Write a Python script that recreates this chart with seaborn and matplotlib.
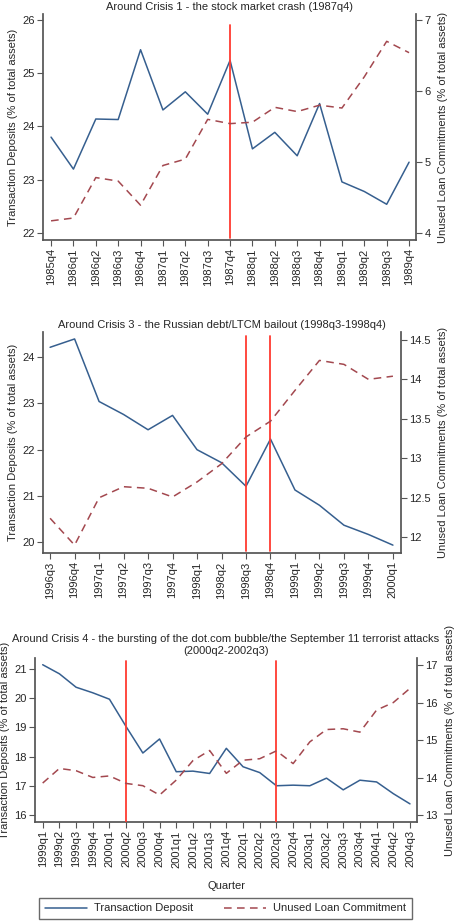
import matplotlib
matplotlib.use('Agg')
import matplotlib.pyplot as plt
from matplotlib.ticker import FormatStrFormatter
from matplotlib.lines import Line2D
import seaborn as sns
import pandas as pd

sns.set_theme(style='ticks')
plt.rcParams['font.family'] = ['Liberation Sans', 'DejaVu Sans']

BLUE = '#365f8f'
MAROON = '#a3484f'
RED = '#ff3a30'
AXC = '#555555'
FS = 8

# Crisis 1 - 1987q4
quarters1 = ['1985q4', '1986q1', '1986q2', '1986q3', '1986q4', '1987q1', '1987q2', '1987q3', '1987q4',
             '1988q1', '1988q2', '1988q3', '1988q4', '1989q1', '1989q2', '1989q3', '1989q4']
deposit1 = [23.80, 23.20, 24.14, 24.13, 25.44, 24.31, 24.65, 24.23, 25.24,
            23.58, 23.89, 23.45, 24.43, 22.96, 22.78, 22.54, 23.33]
unused1 = [4.17, 4.21, 4.78, 4.73, 4.39, 4.95, 5.04, 5.60, 5.54,
           5.56, 5.77, 5.71, 5.80, 5.76, 6.20, 6.70, 6.54]
crisis1 = ['1987q4']

# Crisis 3 - 1998q3-1998q4
quarters3 = ['1996q3', '1996q4', '1997q1', '1997q2', '1997q3', '1997q4', '1998q1', '1998q2',
             '1998q3', '1998q4', '1999q1', '1999q2', '1999q3', '1999q4', '2000q1']
deposit3 = [24.21, 24.39, 23.04, 22.76, 22.43, 22.74, 22.00, 21.72,
            21.21, 22.23, 21.13, 20.80, 20.37, 20.17, 19.94]
unused3 = [12.24, 11.90, 12.50, 12.64, 12.62, 12.51, 12.70, 12.93,
           13.27, 13.47, 13.86, 14.24, 14.19, 14.00, 14.04]
crisis3 = ['1998q3', '1998q4']

# Crisis 4 - 2000q2-2002q3
quarters4 = ['1999q1', '1999q2', '1999q3', '1999q4', '2000q1', '2000q2', '2000q3', '2000q4',
             '2001q1', '2001q2', '2001q3', '2001q4', '2002q1', '2002q2', '2002q3', '2002q4',
             '2003q1', '2003q2', '2003q3', '2003q4', '2004q1', '2004q2', '2004q3']
deposit4 = [21.14, 20.83, 20.37, 20.18, 19.96, 19.02, 18.12, 18.60,
            17.48, 17.50, 17.42, 18.28, 17.65, 17.45, 17.00, 17.02,
            17.00, 17.26, 16.86, 17.19, 17.13, 16.73, 16.38]
unused4 = [13.86, 14.25, 14.19, 14.01, 14.05, 13.85, 13.79, 13.54,
           13.94, 14.46, 14.73, 14.12, 14.47, 14.51, 14.72, 14.38,
           14.96, 15.29, 15.31, 15.22, 15.81, 16.01, 16.39]
crisis4 = ['2000q2', '2002q3']

fig = plt.figure(figsize=(4.61, 9.21), dpi=100)
fig.patch.set_facecolor('white')


def panel(rect, quarters, dep, unused, crises, title, xlim, ylim_l, ticks_l, ylim_r, ticks_r, vspan):
    df = pd.DataFrame({'quarter': quarters, 'dep': dep, 'unused': unused})
    ax = fig.add_axes(rect)
    ax2 = ax.twinx()
    sns.lineplot(data=df, x='quarter', y='dep', ax=ax, sort=False, color=BLUE, lw=1.1)
    sns.lineplot(data=df, x='quarter', y='unused', ax=ax2, sort=False, color=MAROON, lw=1.1,
                 linestyle='--')
    ax2.lines[-1].set_dashes((5, 3.5))
    for c in crises:
        ax.axvline(quarters.index(c), ymin=vspan[0], ymax=vspan[1], color=RED, lw=1.3, zorder=5)
    ax.set_xlim(*xlim)
    ax.set_ylim(*ylim_l)
    ax.set_yticks(ticks_l)
    ax2.set_ylim(*ylim_r)
    ax2.set_yticks(ticks_r)
    ax2.yaxis.set_major_formatter(FormatStrFormatter('%g'))
    ax.set_xticks(range(len(quarters)))
    ax.set_xticklabels(quarters, rotation=90)
    ax.set_xlabel('')
    ax.set_ylabel('Transaction Deposits (% of total assets)', fontsize=FS, labelpad=3)
    ax2.set_ylabel('Unused Loan Commitments (% of total assets)', fontsize=FS, labelpad=5)
    ax.set_title(title, fontsize=FS, pad=3)
    ax.spines['top'].set_visible(False)
    ax.spines['right'].set_visible(False)
    for s in ['top', 'left', 'bottom']:
        ax2.spines[s].set_visible(False)
    ax.spines['left'].set_color(AXC)
    ax.spines['bottom'].set_color(AXC)
    ax2.spines['right'].set_color(AXC)
    for a in (ax, ax2):
        a.tick_params(axis='both', labelsize=FS, length=4, width=0.8, color=AXC, pad=2)
        a.set_facecolor('none')
    ax.grid(False)
    ax2.grid(False)
    return ax


panel([43 / 461, 1 - 240 / 921, 373 / 461, 226 / 921], quarters1, deposit1, unused1, crisis1,
      'Around Crisis 1 - the stock market crash (1987q4)',
      (-0.36, 16.31), (21.87, 26.11), [22, 23, 24, 25, 26], (3.90, 7.085), [4, 5, 6, 7], (0.01, 0.95))

panel([43 / 461, 1 - 553 / 921, 358 / 461, 221 / 921], quarters3, deposit3, unused3, crisis3,
      'Around Crisis 3 - the Russian debt/LTCM bailout (1998q3-1998q4)',
      (-0.29, 14.33), (19.77, 24.54), [20, 21, 22, 23, 24], (11.80, 14.60),
      [12, 12.5, 13, 13.5, 14, 14.5], (0.01, 0.98))

ax4 = panel([35 / 461, 1 - 822 / 921, 382 / 461, 164 / 921], quarters4, deposit4, unused4, crisis4,
            'Around Crisis 4 - the bursting of the dot.com bubble/the September 11 terrorist attacks\n(2000q2-2002q3)',
            (-0.46, 22.42), (15.76, 21.37), [16, 17, 18, 19, 20, 21], (12.82, 17.2),
            [13, 14, 15, 16, 17], (0.0, 0.98))
ax4.set_xlabel('Quarter', fontsize=FS, labelpad=10)

handles = [Line2D([], [], color=BLUE, lw=1.1),
           Line2D([], [], color=MAROON, lw=1.1, dashes=(5, 3.5))]
leg = fig.legend(handles, ['Transaction Deposit', 'Unused Loan Commitment'],
                 loc='lower center', bbox_to_anchor=(225.5 / 461, 2 / 921),
                 ncol=2, fontsize=FS, frameon=True, fancybox=False,
                 handlelength=3.8, handletextpad=0.65, columnspacing=2.7,
                 borderpad=0.5, borderaxespad=0)
leg.get_frame().set_edgecolor('#444444')
leg.get_frame().set_linewidth(1.0)

fig.savefig('out.png', dpi=100, facecolor='white')
